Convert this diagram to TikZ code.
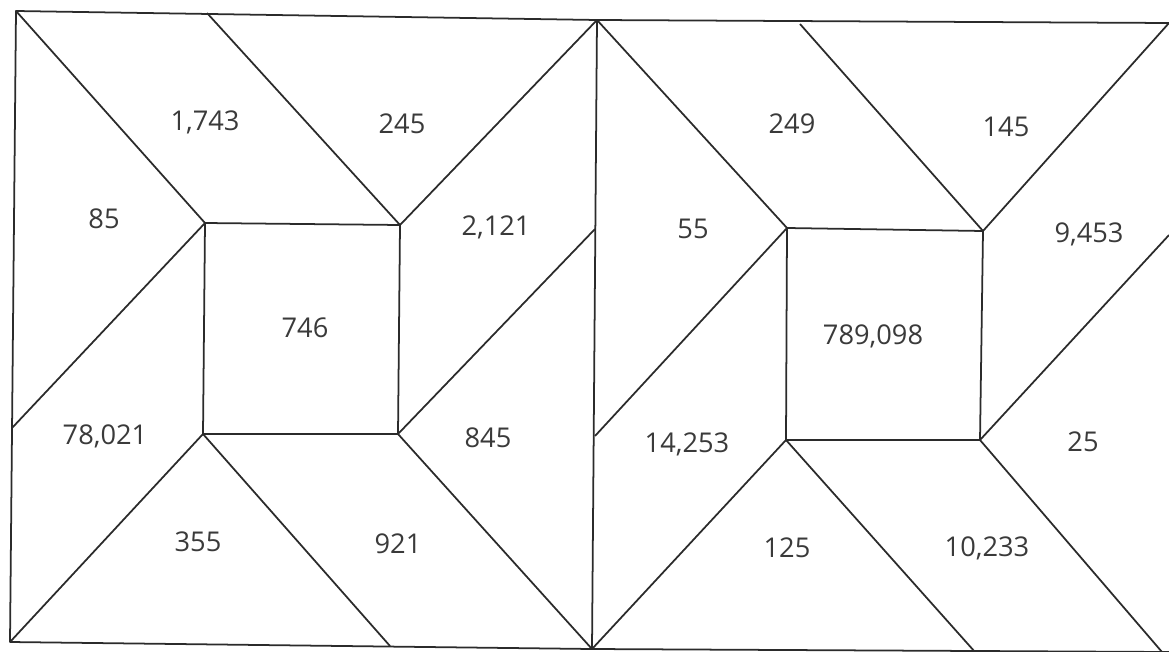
\documentclass[tikz,border=0pt]{standalone}
\usepackage{fontspec}
\setmainfont{Open Sans}
\usepackage{tikz}
\usetikzlibrary{positioning}
\definecolor{inkGray}{HTML}{2B2B2B}
\definecolor{numGray}{HTML}{3A3A3A}

\begin{document}
\begin{tikzpicture}[
    x=0.02cm, y=-0.02cm,
    edge/.style={draw=inkGray, line width=1pt, line join=round},
    num/.style={
        font=\fontsize{15.5}{17}\selectfont,
        text=numGray, inner sep=1pt
    },
]
\useasboundingbox (0,0) rectangle (1169,652);

%% =================================================================
%% Shared middle edge
%% =================================================================
\coordinate (mtop) at (597,20);
\coordinate (mbot) at (592,649);
\draw[edge] (mtop) -- (mbot);

%% =================================================================
%% Left panel: corners and inner square
%% =================================================================
\coordinate (ltl) at (16,11);
\coordinate (ltm) at (207,13);
\coordinate (lrm) at (595,229);
\coordinate (lbm) at (390,646);
\coordinate (lbl) at (10,642);
\coordinate (llm) at (12,428);
\coordinate (la) at (205,223);
\coordinate (lb) at (400,225);
\coordinate (lc) at (398,434);
\coordinate (ld) at (203,434);

\draw[edge] (mtop) -- (ltl) -- (lbl) -- (mbot);
\draw[edge] (la) -- (lb) -- (lc) -- (ld) -- cycle;
\draw[edge] (ltl) -- (la);
\draw[edge] (ltm) -- (lb);
\draw[edge] (mtop) -- (lb);
\draw[edge] (la) -- (llm);
\draw[edge] (ld) -- (lbl);
\draw[edge] (ld) -- (lbm);
\draw[edge] (lc) -- (mbot);
\draw[edge] (lc) -- (lrm);

%% =================================================================
%% Right panel: corners and inner square
%% =================================================================
\coordinate (rtm) at (800,24);
\coordinate (rtr) at (1169,23);
\coordinate (rrm) at (1169,235);
\coordinate (rbr) at (1162,652);
\coordinate (rbe) at (1169,652);
\coordinate (rbm) at (975,652);
\coordinate (rlm) at (595,436);
\coordinate (ra) at (787,228);
\coordinate (rb) at (983,231);
\coordinate (rc) at (980,440);
\coordinate (rd) at (786,440);

\draw[edge] (mtop) -- (rtr);
\draw[edge] (mbot) -- (rbe);
\draw[edge] (ra) -- (rb) -- (rc) -- (rd) -- cycle;
\draw[edge] (mtop) -- (ra);
\draw[edge] (rtm) -- (rb);
\draw[edge] (rtr) -- (rb);
\draw[edge] (ra) -- (rlm);
\draw[edge] (rd) -- (mbot);
\draw[edge] (rd) -- (rbm);
\draw[edge] (rc) -- (rbr);
\draw[edge] (rc) -- (rrm);

%% =================================================================
%% Numbers, left panel
%% =================================================================
\node[num] (n1743) at (205,122) {1,743};
\node[num] (n245) at (402,124) {245};
\node[num] (n85) at (104,219) {85};
\node[num] (n2121) at (496,227) {2,121};
\node[num] (n746) at (305,328) {746};
\node[num] (n78021) at (105,436) {78,021};
\node[num] (n845) at (488,438) {845};
\node[num] (n355) at (198,542) {355};
\node[num] (n921) at (398,544) {921};

%% =================================================================
%% Numbers, right panel
%% =================================================================
\node[num] (n249) at (792,124) {249};
\node[num] (n145) at (1006,127) {145};
\node[num] (n55) at (693,229) {55};
\node[num] (n9453) at (1089,234) {9,453};
\node[num] (n789098) at (873,336) {789,098};
\node[num] (n14253) at (687,444) {14,253};
\node[num] (n25) at (1083,442) {25};
\node[num] (n125) at (787,548) {125};
\node[num] (n10233) at (987,548) {10,233};

\end{tikzpicture}
\end{document}
